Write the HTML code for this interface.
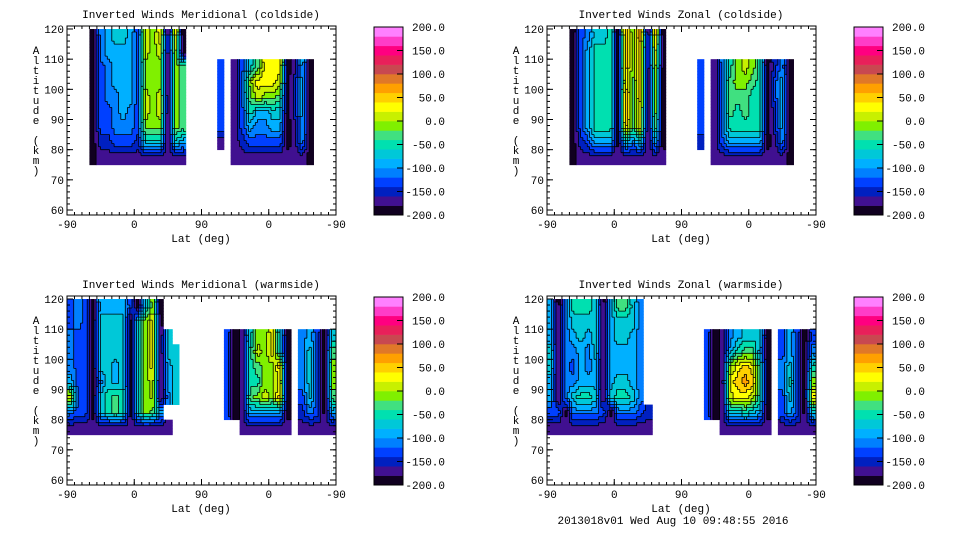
<!DOCTYPE html>
<html><head><meta charset="utf-8">
<style>
body{margin:0;background:#fff;}
svg text{font-family:"Liberation Mono",monospace;font-size:11px;fill:#000;}
</style></head>
<body>
<svg id="chart" width="960" height="540" xmlns="http://www.w3.org/2000/svg">
<rect width="960" height="540" fill="#fff"/>
<text x="673" y="524" text-anchor="middle">2013018v01 Wed Aug 10 09:48:55 2016</text>
</svg>
<script>
// Level colors, from -200 (index 0) upward in steps of 20
const levelColors = ["#100020","#401090","#0020c0","#0040ff","#0080ff","#00b0ff","#00c8d8","#00e0b0","#40e080","#80f000","#c8f000","#ffff00","#ffd000","#ffa000","#e07828","#c84850","#e8205a","#ff0080","#ff3cc8","#ff80ff"];
const colorbarTicks = ["200.0","150.0","100.0","50.0","0.0","-50.0","-100.0","-150.0","-200.0"];
const altitudeTicks = [120,110,100,90,80,70,60];
const latTickLabels = ["-90","0","90","0","-90"];
const rowTops = [120,115,110,105,100,95,90,85,80]; // altitude row bands (5 km)
const panelTitles = ["Inverted Winds Meridional (coldside)","Inverted Winds Zonal (coldside)","Inverted Winds Meridional (warmside)","Inverted Winds Zonal (warmside)"];
// level codes (0-9,a-j) per 10-unit lat column; '.' = no data
// west half: columns 0-19 ; east half: columns 20-35
const meridColdWest = ["...0456653a9b0b0","...0455553a9a0a0","...0345553999098","...0345553999098","...0344553a9a098","...0334543a9a098","...0334443999098","...0223332666065","...0111111111111"];
const meridColdEast = ["","","3.1368bbb0150","3.149bbba0250","3.148a9980250","3.13755660250","3.13544550150","1.12333330140","..11111111110"];
const zonalColdWest = ["...0346670c9d0c0","...0357770c9c0b0","...0357770c9c0a0","...0357770b8c090","...0357770d8c090","...0357770d8b090","...0357770c8b080","...0235550646050","...0111111111111"];
const zonalColdEast = ["","","3.1479a970240","3.14899870350","3.14888770350","3.14878770250","3.14777770250","2.13555550140","..11111111110"];
const meridWarmWest = ["3430555530690","34306666069b0","43306666069b06","43306666069b066","43306656069b056","53304656069a056","a3306787069a046","4330678706985","11111111111111"];
const meridWarmEast = ["","",".301699b60.45306",".3017a9b60.46308",".3017899c0.46309",".3017799b0.46309",".30189a9c0.36308",".301555550.24305","...1111111.11111"];
const zonalWarmWest = ["5047776058864","5046666056664","5045656056654","6044546055554","6043545055554","5044555056654","5046776067764","33044443044432","11111111111111"];
const zonalWarmEast = ["","",".301456660.35303",".301578850.35304",".3019bcb70.46307",".301bcdc70.47309",".301abba70.3630b",".301667650.35306","...1111111.11111"];
const panelWest = [meridColdWest,zonalColdWest,meridWarmWest,zonalWarmWest];
const panelEast = [meridColdEast,zonalColdEast,meridWarmEast,zonalWarmEast];

const NS="http://www.w3.org/2000/svg";
const svg=document.getElementById('chart');
function mk(tag,attrs,parent){const e=document.createElementNS(NS,tag);for(const k in attrs)e.setAttribute(k,attrs[k]);(parent||svg).appendChild(e);return e;}
const PX0=67,PX1=336,PY0=26,PY1=215;
function xScale(u){return PX0+u/360*(PX1-PX0);}
function yScale(a){return 29+(120-a)*181/60;}
function code(grid,r,c){if(r<0||r>=grid.length||c<0||c>=36)return null;const ch=grid[r][c];if(ch==='.'||ch===undefined)return null;return parseInt(ch,36);}

panelWest.forEach((west,p)=>{
  const grid=west.map((w,r)=>w.padEnd(20,'.').slice(0,20)+panelEast[p][r].padEnd(16,'.').slice(0,16));
  const ox=(p%2)*480, oy=Math.floor(p/2)*270;
  const g=mk('g',{transform:`translate(${ox},${oy})`});
  
  
  const t=mk('text',{x:201,y:18,'text-anchor':'middle'},g);t.textContent=panelTitles[p];
  
  
  const cells=mk('g',{},g);
  
  
  const du=3, da=1;
  const nU=360/du, nA=45/da;
  const lv=[];
  for(let j=0;j<nA;j++){
    lv.push([]);
    const a=120-(j+0.5)*da;
    const rf=(120-a)/5-0.5;
    for(let i=0;i<nU;i++){
      const u=(i+0.5)*du;
      const cf=u/10-0.5;
      const r0=Math.floor((120-a)/5), c0=Math.floor(u/10);
      const own=code(grid,r0,c0);
      if(own===null){lv[j].push(null);continue;}
      const ra=Math.floor(rf), ca=Math.floor(cf);
      const fr=rf-ra, fc=cf-ca;
      let s=0,w=0;
      [[ra,ca,(1-fr)*(1-fc)],[ra,ca+1,(1-fr)*fc],[ra+1,ca,fr*(1-fc)],[ra+1,ca+1,fr*fc]].forEach(([r,c,wt])=>{
        const v=code(grid,r,c); const vv=(v===null)?own:v; s+=vv*wt; w+=wt;});
      lv[j].push(Math.max(0,Math.min(19,Math.round(s/w))));
    }
  }
  let lines='';
  for(let j=0;j<nA;j++){
    const yT=yScale(120-j*da), yB=yScale(120-(j+1)*da);
    let i=0;
    while(i<nU){
      const v=lv[j][i]; if(v===null){i++;continue;}
      let k=i; while(k+1<nU&&lv[j][k+1]===v)k++;
      const x=xScale(i*du), x2=xScale((k+1)*du);
      const rc=mk('rect',{x:x.toFixed(2),y:yT.toFixed(2),width:(x2-x+0.4).toFixed(2),height:(yB-yT+0.4).toFixed(2),fill:levelColors[v]},cells);
      
      
      i=k+1;
    }
    for(let i2=0;i2<nU;i2++){
      const v=lv[j][i2]; if(v===null)continue;
      const x=xScale(i2*du), x2=xScale((i2+1)*du);
      if(i2+1<nU&&lv[j][i2+1]!==null&&lv[j][i2+1]!==v) lines+=`M${x2.toFixed(1)} ${yT.toFixed(1)}V${yB.toFixed(1)}`;
      if(j+1<nA&&lv[j+1][i2]!==null&&lv[j+1][i2]!==v) lines+=`M${x.toFixed(1)} ${yB.toFixed(1)}H${x2.toFixed(1)}`;
    }
  }
  const cl=mk('path',{d:lines,stroke:'#000','stroke-width':0.8,fill:'none'},cells);
  
  
  const fr=mk('rect',{x:PX0,y:PY0,width:PX1-PX0,height:PY1-PY0,fill:'none',stroke:'#000','stroke-width':1},g);
  
  
  altitudeTicks.forEach(a=>{
    const y=yScale(a);
    mk('line',{x1:PX0,y1:y,x2:PX0+6,y2:y,stroke:'#000'},g);
    mk('line',{x1:PX1,y1:y,x2:PX1-6,y2:y,stroke:'#000'},g);
    const tl=mk('text',{x:PX0-3,y:y+4,'text-anchor':'end'},g);tl.textContent=a;
    
    
  });
  for(let a=60;a<=120;a+=2){const y=yScale(a);mk('line',{x1:PX0,y1:y,x2:PX0+3,y2:y,stroke:'#000'},g);mk('line',{x1:PX1,y1:y,x2:PX1-3,y2:y,stroke:'#000'},g);}
  latTickLabels.forEach((lab,i)=>{
    const x=xScale(i*90);
    mk('line',{x1:x,y1:PY1,x2:x,y2:PY1-6,stroke:'#000'},g);
    mk('line',{x1:x,y1:PY0,x2:x,y2:PY0+6,stroke:'#000'},g);
    const tl=mk('text',{x:x,y:PY1+13,'text-anchor':'middle'},g);tl.textContent=lab;
    
    
  });
  for(let u=0;u<=360;u+=10){const x=xScale(u);mk('line',{x1:x,y1:PY1,x2:x,y2:PY1-3,stroke:'#000'},g);mk('line',{x1:x,y1:PY0,x2:x,y2:PY0+3,stroke:'#000'},g);}
  const xt=mk('text',{x:201,y:242,'text-anchor':'middle'},g);xt.textContent='Lat (deg)';
  
  
  const ylab='Altitude (km)';
  const yt=mk('g',{},g);
  
  
  for(let i=0;i<ylab.length;i++){const ch=mk('text',{x:36,y:54+i*10,'text-anchor':'middle'},yt);ch.textContent=ylab[i];}
  const cb=mk('g',{},g);
  
  
  const CX0=374,CX1=403,CY0=27,CY1=215,bh=(CY1-CY0)/levelColors.length;
  levelColors.forEach((col,i)=>{mk('rect',{x:CX0,y:CY1-(i+1)*bh,width:CX1-CX0,height:bh+0.3,fill:col},cb);});
  mk('rect',{x:CX0,y:CY0,width:CX1-CX0,height:CY1-CY0,fill:'none',stroke:'#000'},cb);
  colorbarTicks.forEach((lab,i)=>{
    const y=CY0+i*(CY1-CY0)/(colorbarTicks.length-1);
    mk('line',{x1:CX1-6,y1:y,x2:CX1,y2:y,stroke:'#000'},cb);
    const tl=mk('text',{x:445,y:y+4,'text-anchor':'end'},cb);tl.textContent=lab;
    
    
  });
});
</script>
</body></html>
